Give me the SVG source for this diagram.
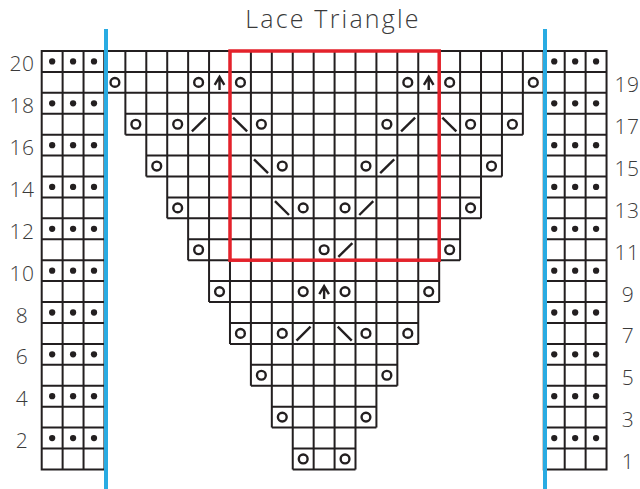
<svg xmlns="http://www.w3.org/2000/svg" xmlns:xlink="http://www.w3.org/1999/xlink" width="640" height="489" viewBox="0 0 640 489">
<style>
.ln{fill:none;stroke:#231f20;stroke-width:2;vector-effect:non-scaling-stroke;stroke-linecap:butt}
.sym{fill:none;stroke:#231f20;stroke-width:2.4;vector-effect:non-scaling-stroke;stroke-linecap:butt;stroke-linejoin:miter}
.dot{fill:#231f20;stroke:none}
.lbl{font-family:"Open Sans","Liberation Sans",sans-serif;font-weight:300;font-size:21px;fill:#3a3a3a;text-anchor:middle;letter-spacing:0.5px}
.title{font-family:"Open Sans","Liberation Sans",sans-serif;font-weight:300;font-size:25px;fill:#3a3a3a;text-anchor:middle;letter-spacing:2.2px}
</style>
<defs>
<g id="d3"><circle class="dot" cx="0.5" cy="0.5" r="0.15"/><circle class="dot" cx="1.5" cy="0.5" r="0.15"/><circle class="dot" cx="2.5" cy="0.5" r="0.15"/></g>
<circle id="yo" class="sym" cx="0.5" cy="0.5" r="0.21"/>
<path id="k2" class="sym" d="M0.18 0.84L0.85 0.18"/>
<path id="ss" class="sym" d="M0.15 0.18L0.82 0.84"/>
<path id="cd" class="sym" d="M0.5 0.86V0.26M0.27 0.62L0.5 0.24L0.73 0.62"/>
</defs>
<text class="title" x="333" y="28">Lace Triangle</text>
<g id="chart" transform="translate(41.7,51) scale(20.92)">
<g id="grid">
<path class="ln" d="M0 0H3V20H0ZM24 0H27V20H24ZM1 0V20M2 0V20M25 0V20M26 0V20M0 1H3M0 2H3M0 3H3M0 4H3M0 5H3M0 6H3M0 7H3M0 8H3M0 9H3M0 10H3M0 11H3M0 12H3M0 13H3M0 14H3M0 15H3M0 16H3M0 17H3M0 18H3M0 19H3M24 1H27M24 2H27M24 3H27M24 4H27M24 5H27M24 6H27M24 7H27M24 8H27M24 9H27M24 10H27M24 11H27M24 12H27M24 13H27M24 14H27M24 15H27M24 16H27M24 17H27M24 18H27M24 19H27"/>
<path class="ln" d="M3 0H24M3 1H24M3 2H24M4 3H23M4 4H23M5 5H22M5 6H22M6 7H21M6 8H21M7 9H20M7 10H20M8 11H19M8 12H19M9 13H18M9 14H18M10 15H17M10 16H17M11 17H16M11 18H16M12 19H15M12 20H15"/>
<path class="ln" d="M3 0V2M4 0V4M5 0V6M6 0V8M7 0V10M8 0V12M9 0V14M10 0V16M11 0V18M12 0V20M13 0V20M14 0V20M15 0V20M16 0V18M17 0V16M18 0V14M19 0V12M20 0V10M21 0V8M22 0V6M23 0V4M24 0V2"/>
</g>
<g id="purl">
<use href="#d3" x="0" y="0"/><use href="#d3" x="24" y="0"/>
<use href="#d3" x="0" y="2"/><use href="#d3" x="24" y="2"/>
<use href="#d3" x="0" y="4"/><use href="#d3" x="24" y="4"/>
<use href="#d3" x="0" y="6"/><use href="#d3" x="24" y="6"/>
<use href="#d3" x="0" y="8"/><use href="#d3" x="24" y="8"/>
<use href="#d3" x="0" y="10"/><use href="#d3" x="24" y="10"/>
<use href="#d3" x="0" y="12"/><use href="#d3" x="24" y="12"/>
<use href="#d3" x="0" y="14"/><use href="#d3" x="24" y="14"/>
<use href="#d3" x="0" y="16"/><use href="#d3" x="24" y="16"/>
<use href="#d3" x="0" y="18"/><use href="#d3" x="24" y="18"/>
</g>
<g id="lace">
<use href="#yo" x="3" y="1"/><use href="#yo" x="7" y="1"/><use href="#cd" x="8" y="1"/><use href="#yo" x="9" y="1"/><use href="#yo" x="17" y="1"/><use href="#cd" x="18" y="1"/><use href="#yo" x="19" y="1"/><use href="#yo" x="23" y="1"/>
<use href="#yo" x="4" y="3"/><use href="#yo" x="6" y="3"/><use href="#k2" x="7" y="3"/><use href="#ss" x="9" y="3"/><use href="#yo" x="10" y="3"/><use href="#yo" x="16" y="3"/><use href="#k2" x="17" y="3"/><use href="#ss" x="19" y="3"/><use href="#yo" x="20" y="3"/><use href="#yo" x="22" y="3"/>
<use href="#yo" x="5" y="5"/><use href="#ss" x="10" y="5"/><use href="#yo" x="11" y="5"/><use href="#yo" x="15" y="5"/><use href="#k2" x="16" y="5"/><use href="#yo" x="21" y="5"/>
<use href="#yo" x="6" y="7"/><use href="#ss" x="11" y="7"/><use href="#yo" x="12" y="7"/><use href="#yo" x="14" y="7"/><use href="#k2" x="15" y="7"/><use href="#yo" x="20" y="7"/>
<use href="#yo" x="7" y="9"/><use href="#yo" x="13" y="9"/><use href="#k2" x="14" y="9"/><use href="#yo" x="19" y="9"/>
<use href="#yo" x="8" y="11"/><use href="#yo" x="12" y="11"/><use href="#cd" x="13" y="11"/><use href="#yo" x="14" y="11"/><use href="#yo" x="18" y="11"/>
<use href="#yo" x="9" y="13"/><use href="#yo" x="11" y="13"/><use href="#k2" x="12" y="13"/><use href="#ss" x="14" y="13"/><use href="#yo" x="15" y="13"/><use href="#yo" x="17" y="13"/>
<use href="#yo" x="10" y="15"/><use href="#yo" x="16" y="15"/>
<use href="#yo" x="11" y="17"/><use href="#yo" x="15" y="17"/>
<use href="#yo" x="12" y="19"/><use href="#yo" x="14" y="19"/>
</g>
</g>
<g id="repeat"><rect x="230" y="51" width="209.2" height="209.2" fill="none" stroke="#e4222b" stroke-width="3.5"/></g>
<g id="edges">
<line x1="106" y1="29" x2="106" y2="489" stroke="#29abe2" stroke-width="4"/>
<line x1="545" y1="29" x2="545" y2="489" stroke="#29abe2" stroke-width="4"/>
</g>
<g id="rownums">
<text class="lbl" x="22" y="71.4">20</text>
<text class="lbl" x="22" y="113.3">18</text>
<text class="lbl" x="22" y="155.1">16</text>
<text class="lbl" x="22" y="196.9">14</text>
<text class="lbl" x="22" y="238.8">12</text>
<text class="lbl" x="22" y="280.6">10</text>
<text class="lbl" x="22" y="322.5">8</text>
<text class="lbl" x="22" y="364.3">6</text>
<text class="lbl" x="22" y="406.2">4</text>
<text class="lbl" x="22" y="448">2</text>
<text class="lbl" x="627" y="92.3">19</text>
<text class="lbl" x="627" y="134.2">17</text>
<text class="lbl" x="627" y="176">15</text>
<text class="lbl" x="627" y="217.9">13</text>
<text class="lbl" x="627" y="259.7">11</text>
<text class="lbl" x="628" y="301.5">9</text>
<text class="lbl" x="628" y="343.4">7</text>
<text class="lbl" x="628" y="385.2">5</text>
<text class="lbl" x="628" y="427.1">3</text>
<text class="lbl" x="628" y="468.9">1</text>
</g>
</svg>
